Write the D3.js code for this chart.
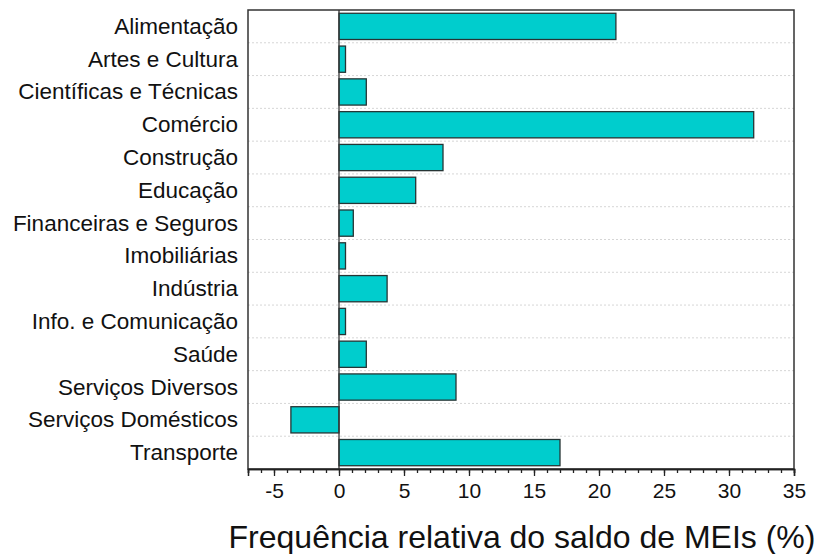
<!DOCTYPE html>
<html>
<head>
<meta charset="utf-8">
<script src="https://cdn.jsdelivr.net/npm/d3@7"></script>
<style>
  body { margin: 0; background: #fff; }
  text { font-family: "Liberation Sans", Arial, sans-serif; fill: #111; }
</style>
</head>
<body>
<svg width="814" height="554"></svg>
<script>
// data
const categories = ["Alimentação", "Artes e Cultura", "Científicas e Técnicas", "Comércio",
  "Construção", "Educação", "Financeiras e Seguros", "Imobiliárias", "Indústria",
  "Info. e Comunicação", "Saúde", "Serviços Diversos", "Serviços Domésticos", "Transporte"]
const values = [21.3, 0.5, 2.1, 31.9, 8.0, 5.9, 1.1, 0.5, 3.7, 0.5, 2.1, 9.0, -3.7, 17.0]
const majorTicks = [-5, 0, 5, 10, 15, 20, 25, 30, 35]
const xTitle = "Frequência relativa do saldo de MEIs (%)"

const svg = d3.select("svg")
const plotL = 248, plotR = 794, plotT = 10, plotB = 469

const x = d3.scaleLinear().domain([-7, 35]).range([plotL, plotR])
const y = d3.scaleBand().domain(categories).range([plotT, plotB]).paddingInner(0.2).paddingOuter(0.1)

// dotted separators between categories
const step = y.step()
const seps = d3.range(1, categories.length).map(i => plotT + y.paddingOuter() * step - y.paddingInner() * step / 2 + i * step)
svg.append("g").selectAll("line").data(seps).join("line")
  .attr("x1", plotL).attr("x2", plotR).attr("y1", d => d).attr("y2", d => d)
  .attr("stroke", "#d6d6d6").attr("stroke-width", 1).attr("stroke-dasharray", "2,2")

// bars
svg.append("g").selectAll("rect").data(values).join("rect")
  .attr("x", d => x(Math.min(0, d)))
  .attr("width", d => Math.abs(x(d) - x(0)))
  .attr("y", (d, i) => y(categories[i]))
  .attr("height", y.bandwidth())
  .attr("fill", "#00cdcd").attr("stroke", "#263535").attr("stroke-width", 1.3)

// zero line
svg.append("line").attr("x1", x(0)).attr("x2", x(0)).attr("y1", plotT).attr("y2", plotB)
  .attr("stroke", "#333").attr("stroke-width", 1.3)

// frame
svg.append("rect").attr("x", plotL).attr("y", plotT).attr("width", plotR - plotL).attr("height", plotB - plotT)
  .attr("fill", "none").attr("stroke", "#333").attr("stroke-width", 1.5)

// category labels
svg.append("g").selectAll("text").data(categories).join("text")
  .attr("x", plotL - 10).attr("y", d => y(d) + y.bandwidth() / 2)
  .attr("text-anchor", "end").attr("dominant-baseline", "central")
  .style("font-size", "22.5px").text(d => d)

// x axis: minor ticks every unit, major every 5
const xAxis = svg.append("g").attr("transform", `translate(0,${plotB})`)
xAxis.append("g").call(d3.axisBottom(x).tickValues(d3.range(-7, 36)).tickSize(4).tickFormat(""))
xAxis.append("g").call(d3.axisBottom(x).tickValues(majorTicks).tickSize(7).tickPadding(7).tickFormat(d => String(d)))
xAxis.selectAll(".domain").attr("stroke", "#222").attr("stroke-width", 1.5)
xAxis.selectAll(".tick line").attr("stroke", "#222").attr("stroke-width", 1.3)
xAxis.selectAll(".tick text").style("font-size", "21px").attr("fill", "#111")
  .style("font-family", "'Liberation Sans', Arial, sans-serif")

svg.append("text").attr("x", (plotL + plotR) / 2 + 1).attr("y", 548)
  .attr("text-anchor", "middle").style("font-size", "32px").text(xTitle)
</script>
</body>
</html>
